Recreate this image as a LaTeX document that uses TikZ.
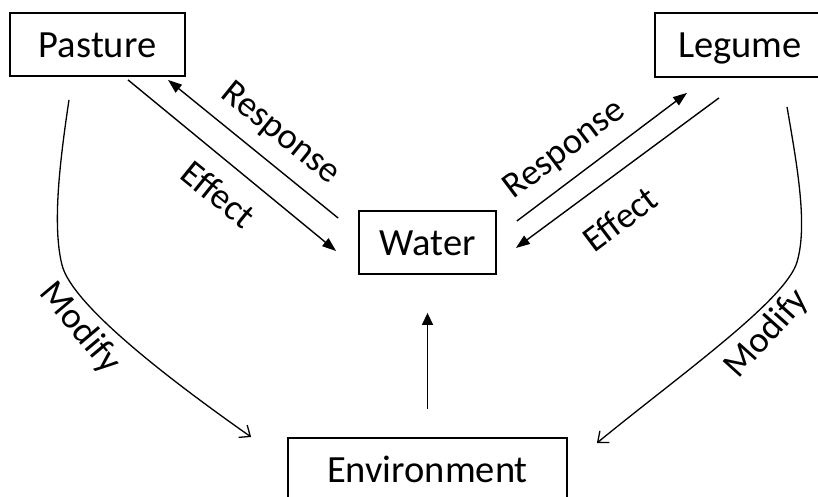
\documentclass[tikz,border=0pt]{standalone}
\usepackage{fontspec}
\setmainfont{Carlito}
\usetikzlibrary{arrows.meta,calc}
\begin{document}
\begin{tikzpicture}[x=1pt,y=-1pt,
  box/.style={draw,line width=1.8pt,inner sep=0pt,font=\fontsize{38.5}{40}\selectfont,text height=27pt,text depth=2pt},
  lbl/.style={font=\fontsize{36.5}{38}\selectfont,inner sep=0pt},
  conn/.style={line width=1.4pt,-{Triangle[length=14pt,width=10pt]}},
  vconn/.style={line width=1.4pt,-{Triangle[length=12pt,width=11pt]}},
  modify/.style={line width=1.3pt,-{Straight Barb[length=9pt,width=15pt,line width=1.3pt]}}]
\useasboundingbox (0,0) rectangle (818,496);
\clip (0,0) rectangle (818,496);
\fill[white] (0,0) rectangle (818,496);
% boxes
\node[box,minimum width=175pt,minimum height=63pt] (pasture) at (97.5,44.5) {Pasture};
\node[box,minimum width=170pt,minimum height=64pt] (legume) at (740,45) {Legume};
\node[box,minimum width=137pt,minimum height=63pt] (water) at (427.5,242.5) {Water};
\node[box,minimum width=279pt,minimum height=63pt] (env) at (427.5,469.5) {Environment};
% straight connectors
\draw[conn] ($(pasture.south)+(30.5,3)$) -- ($(water.west)+(-22,8.5)$);
\draw[conn] ($(water.west)+(-20,-24.5)$) -- ($(pasture.south)+(70.5,3)$);
\draw[conn] ($(water.east)+(20,-21.5)$) -- ($(legume.south)+(-53,15)$);
\draw[conn] ($(legume.south)+(-21,20)$) -- ($(water.east)+(19,5.5)$);
\draw[vconn] ($(env.north)+(0,-28)$) -- ($(water.south)+(0,38)$);
% modify curves
\draw[modify] ($(pasture.south)+(-28.5,23)$) .. controls (60,160) and (52,225) .. (62,265)
  .. controls (72,305) and (170,380) .. ($(env.west)+(-36,-32.5)$);
\draw[modify] ($(legume.south)+(47,29)$) .. controls (797,165) and (808,225) .. (797,262)
  .. controls (786,300) and (680,375) .. ($(env.east)+(29,-26.5)$);
% labels
\node[lbl,rotate=-39] (resp1) at (280,134) {Response};
\node[lbl,rotate=-39] (eff1) at (219,194) {Effect};
\node[lbl,rotate=37] (resp2) at (565,150) {Response};
\node[lbl,rotate=37] (eff2) at (620,219) {Effect};
\node[lbl,rotate=-50] (mod1) at (80,328) {Modify};
\node[lbl,rotate=48] (mod2) at (767,334) {Modify};
\end{tikzpicture}
\end{document}
